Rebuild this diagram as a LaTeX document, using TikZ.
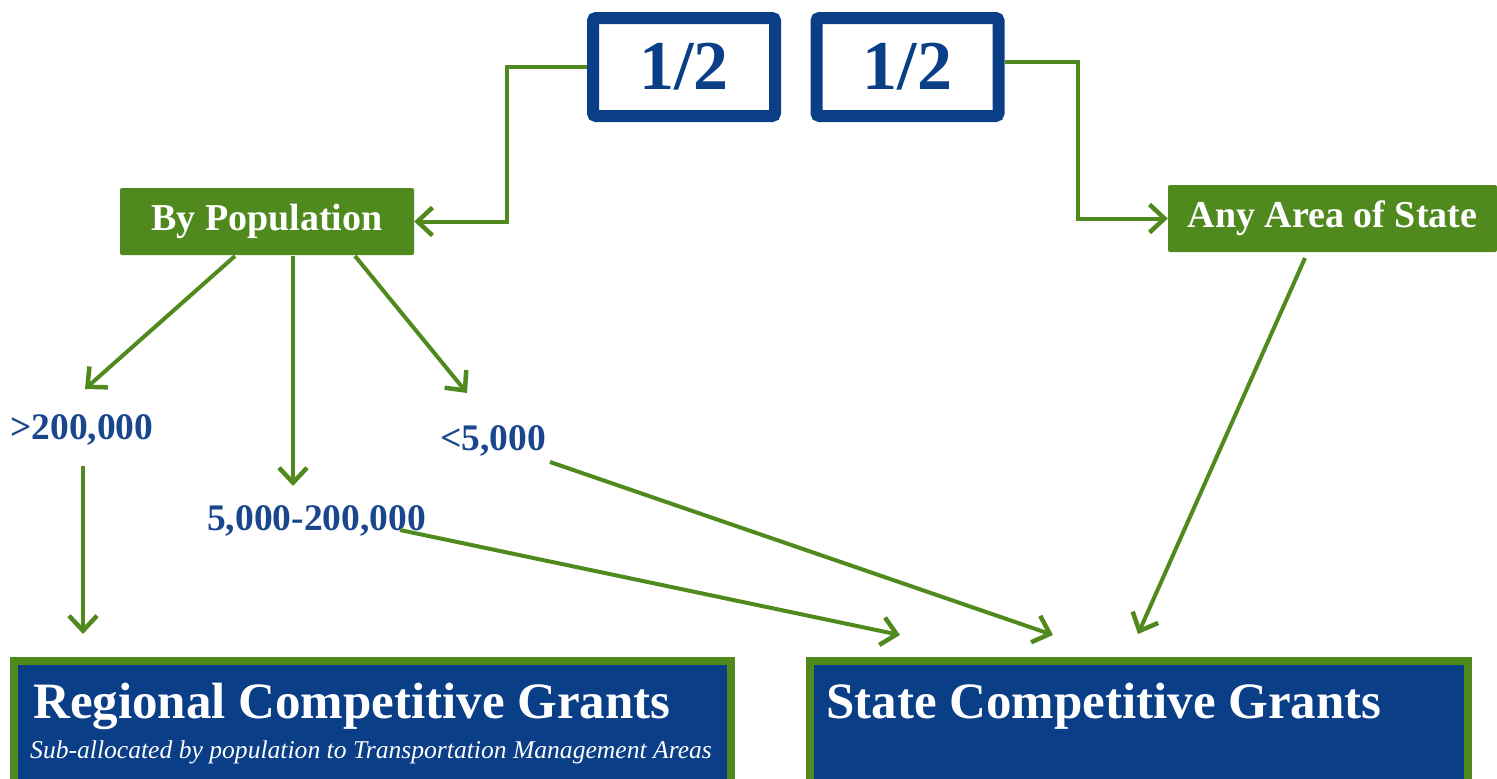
\documentclass[tikz,border=0pt]{standalone}
\usepackage{fontspec}
\setmainfont{Liberation Serif}
\usetikzlibrary{arrows.meta}
\definecolor{grn}{RGB}{80,138,30}
\definecolor{navy}{RGB}{10,62,135}
\definecolor{navytxt}{RGB}{25,70,140}
\tikzset{
  half/.style={draw=navy, line width=12pt, fill=white, rounded corners=3pt,
    minimum width=182pt, minimum height=98pt, inner sep=0pt,
    text=navy, font=\bfseries\fontsize{70}{74}\selectfont},
  greenbox/.style={fill=grn, rounded corners=2pt, inner sep=0pt,
    text=white, font=\bfseries\fontsize{38}{42}\selectfont},
  poplabel/.style={inner sep=0pt, text=navytxt, font=\bfseries\fontsize{37.5}{40}\selectfont, anchor=base west},
  grantbox/.style={draw=grn, line width=8pt, fill=navy, inner sep=0pt},
  grantitle/.style={inner sep=0pt, text=white, anchor=base west, font=\bfseries\fontsize{51}{56}\selectfont},
  grantsub/.style={inner sep=0pt, text=white, anchor=base west, font=\itshape\fontsize{25.6}{30}\selectfont},
  conn/.style={draw=grn, line width=4pt, -{Straight Barb[length=15pt,width=28pt,line width=4.5pt]}},
}
\begin{document}
\begin{tikzpicture}[x=1pt,y=-1pt]
\useasboundingbox (0,0) rectangle (1497,779);
% top boxes
\node[half] (hl) at (684,67) {1/2};
\node[half] (hr) at (907.5,67) {1/2};
% green boxes
\node[greenbox, minimum width=294pt, minimum height=67pt] (pop) at (267,221.5) {By Population};
\node[greenbox, minimum width=329pt, minimum height=67pt] (any) at (1332.5,218.5) {Any Area of State};
% population labels
\node[poplabel] (big) at (10,439) {>200,000};
\node[poplabel] (mid) at (207,530) {5,000-200,000};
\node[poplabel] (small) at (440,450) {<5,000};
% grant boxes
\node[grantbox, minimum width=717pt, minimum height=128pt] (reg) at (372.5,725) {};
\node[grantbox, minimum width=658pt, minimum height=128pt] (st) at (1139,725) {};
\node[grantitle] (regt) at (33,718) {Regional Competitive Grants};
\node[grantsub] (regs) at (30,758) {Sub-allocated by population to Transportation Management Areas};
\node[grantitle] (stt) at (826,718) {State Competitive Grants};
% helper coordinates
\coordinate (bigtop) at (83,466);
\coordinate (regin) at (83,634);
\coordinate (midout) at (400,530);
\coordinate (midin) at (900,635);
\coordinate (smallout) at (550,462);
\coordinate (smallin) at (1053,635);
\coordinate (anyout) at (1305,258);
\coordinate (anyin) at (1138,634);
\coordinate (p1) at (235,256);
\coordinate (p2) at (293,256);
\coordinate (p3) at (355,256);
\coordinate (bigin) at (85,389);
\coordinate (midin2) at (293,486);
\coordinate (smallin2) at (467,393);
% connectors
\draw[conn] (hl.west) -- (507,67) |- (pop.east);
\draw[conn] ([yshift=5pt]hr.east) -- (1078,62) |- (any.west);
\draw[conn] (p1) -- (bigin);
\draw[conn] (p2) -- (midin2);
\draw[conn] (p3) -- (smallin2);
\draw[conn] (bigtop) -- (regin);
\draw[conn] (midout) -- (midin);
\draw[conn] (smallout) -- (smallin);
\draw[conn] (anyout) -- (anyin);
\end{tikzpicture}
\end{document}
